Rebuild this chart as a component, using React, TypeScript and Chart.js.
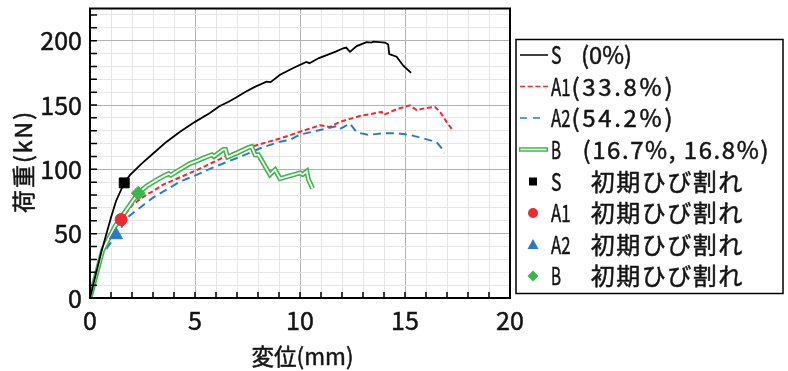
import React, { useEffect, useRef } from 'react';
import { Chart, registerables } from 'chart.js';

Chart.register(...registerables);

// ---------------- data ----------------
const xMin = 0;
const xMax = 20;
const yMin = 0;
const yMax = 225;
const xMajorTicks = [0, 5, 10, 15, 20];
const yMajorTicks = [0, 50, 100, 150, 200];

const xTitle = '変位(mm)';
const yTitle = '荷重(kN)';

const seriesNames = ['S', 'A1', 'A2', 'B'];
const seriesRatios = ['(0%)', '(33.8%)', '(54.2%)', '(16.7%, 16.8%)'];
const crackText = '初期ひび割れ';

// S (0%)
const sX = [0, 0.56, 1.0, 1.24, 1.63, 1.9, 2.46, 3.02, 3.65, 4.29, 5.0, 5.71, 6.16, 6.6, 6.98, 7.43, 7.9, 8.41, 8.6, 9.05, 9.68, 10.3, 10.45, 10.9, 11.27, 11.7, 12.06, 12.2, 12.38, 12.7, 13.17, 13.4, 13.5, 14.05, 14.2, 14.25, 14.6, 14.92, 15.29];
const sY = [0, 37, 62.5, 75.4, 89.5, 95.5, 104.4, 112.5, 121.5, 129.2, 136.9, 143.8, 149, 152.5, 156, 160.5, 164.5, 168.2, 167.8, 173.5, 178.8, 183.5, 182.5, 186.5, 188.7, 191.5, 194.1, 194.6, 191.3, 195.8, 198.8, 198.5, 199.2, 198.5, 197, 189.5, 187.5, 180.5, 174.9];

// A1 (33.8%)
const a1X = [0, 0.6, 1.0, 1.48, 2.03, 2.7, 3.0, 3.49, 4.1, 5.0, 5.87, 6.5, 7.46, 8.1, 9.05, 9.52, 10.0, 10.95, 11.43, 11.9, 12.86, 13.89, 13.97, 14.6, 15.24, 15.56, 15.95, 16.43, 16.67, 16.98, 17.3];
const a1Y = [0, 36, 49, 61, 72.5, 80.5, 83, 88.2, 92.5, 98.8, 105.5, 110.5, 116.4, 119.5, 124, 126.5, 129.2, 134.2, 133, 136.9, 141.5, 144.6, 142.2, 146.7, 149.7, 145.9, 147.5, 148.5, 144.6, 136.9, 129.7];

// A2 (54.2%)
const a2X = [0, 0.6, 1.24, 1.87, 2.59, 3.0, 3.62, 4.29, 5.05, 5.87, 6.67, 7.46, 8.1, 9.05, 9.52, 10.0, 10.95, 11.75, 11.9, 12.38, 12.7, 13.25, 13.97, 14.6, 15.24, 15.87, 16.51, 16.75, 16.86];
const a2Y = [0, 34, 49, 63.8, 72.8, 78, 84, 90.5, 95.5, 101.5, 106.7, 111.8, 116.4, 121.5, 122.8, 127, 130.5, 133.6, 131.3, 135.6, 128.7, 126.8, 128, 128, 126.7, 124.1, 121, 116.4, 112.5];

// B (16.7%, 16.8%)
const bX = [0, 0.6, 1.2, 1.8, 2.3, 2.7, 3.2, 3.6, 3.75, 3.85, 4.3, 4.76, 5.1, 5.4, 5.8, 5.9, 6.35, 6.45, 6.55, 6.98, 7.54, 7.7, 7.86, 8.02, 8.57, 8.81, 9.05, 10.0, 10.13, 10.32, 10.4, 10.6];
const bY = [0, 37, 56, 70, 81.5, 87, 92, 95.5, 96.5, 95.5, 100, 104.5, 106.5, 108.7, 111.3, 110, 115.5, 115.5, 109.5, 112.6, 116.9, 117.7, 111.3, 111.3, 95.9, 99.7, 92.8, 97.2, 96, 98.5, 92.1, 85.1];

// 初期ひび割れ points (S, A1, A2, B)
const crackX = [1.63, 1.48, 1.24, 2.3];
const crackY = [89.5, 61, 49, 81.5];

// ---------------- styles ----------------
const BLACK = '#000000';
const RED = '#ec2a31';
const BLUE = '#2b7bc4';
const GREEN = '#3cb54a';
const MAJOR_GRID = '#b2b2b2';
const MINOR_GRID = '#e6e6e6';
const TEXT = '#141414';
const FONT = '"Noto Sans CJK JP", "Noto Sans CJK SC", sans-serif';

const pts = (xs: number[], ys: number[]) => xs.map((x, i) => ({ x, y: ys[i] }));

function fitText(ctx: CanvasRenderingContext2D, text: string, x: number, y: number, target: number) {
  ctx.textAlign = 'left';
  const w = ctx.measureText(text).width;
  if (w >= target) {
    ctx.fillText(text, x, y, target);
    ctx.strokeText(text, x, y, target);
    return;
  }
  const chars = Array.from(text);
  const extra = chars.length > 1 ? (target - w) / (chars.length - 1) : 0;
  let cx = x;
  for (const ch of chars) {
    ctx.fillText(ch, cx, y);
    ctx.strokeText(ch, cx, y);
    cx += ctx.measureText(ch).width + extra;
  }
}

const decorPlugin = {
  id: 'decor',
  afterDatasetsDraw(chart: any) {
    const { ctx, chartArea: a, scales } = chart;
    const xs = scales.x;
    const ys = scales.y;
    ctx.save();
    ctx.strokeStyle = '#000';
    ctx.lineWidth = 1.5;
    ctx.beginPath();
    xs.ticks.forEach((t: any) => {
      if (t.value <= xMin || t.value >= xMax) return;
      const px = xs.getPixelForValue(t.value);
      ctx.moveTo(px, a.bottom);
      ctx.lineTo(px, a.bottom - 6);
    });
    ys.ticks.forEach((t: any) => {
      if (t.value <= yMin || t.value >= yMax) return;
      const py = ys.getPixelForValue(t.value);
      ctx.moveTo(a.left, py);
      ctx.lineTo(a.left + 7, py);
    });
    ctx.stroke();
    ctx.lineWidth = 2;
    ctx.strokeRect(a.left, a.top, a.right - a.left, a.bottom - a.top);
    ctx.restore();
  },
  afterDraw(chart: any) {
    const { ctx, chartArea: a } = chart;
    ctx.save();
    ctx.fillStyle = TEXT;
    ctx.strokeStyle = TEXT;
    ctx.lineWidth = 0.5;
    ctx.textBaseline = 'middle';

    // axis titles
    ctx.font = `23px ${FONT}`;
    fitText(ctx, xTitle, (a.left + a.right) / 2 - 48.5, 356, 102);
    ctx.save();
    ctx.translate(23, 213);
    ctx.rotate(-Math.PI / 2);
    fitText(ctx, yTitle, 0, 0, 101);
    ctx.restore();

    // legend
    const bl = a.right + 6;
    const bt = 39.5;
    ctx.strokeStyle = '#000';
    ctx.lineWidth = 1.5;
    ctx.strokeRect(bl, bt, 267, 254);

    const rowY = [55, 86.5, 118, 149.5, 181.5, 213, 244.5, 276];
    const sx0 = bl + 4;
    const sx1 = bl + 32;

    // line samples
    ctx.lineCap = 'butt';
    ctx.setLineDash([]);
    ctx.strokeStyle = BLACK;
    ctx.lineWidth = 1.5;
    ctx.beginPath(); ctx.moveTo(sx0, rowY[0]); ctx.lineTo(sx1, rowY[0]); ctx.stroke();
    ctx.setLineDash([5, 2.7]);
    ctx.strokeStyle = RED;
    ctx.lineWidth = 1.3;
    ctx.beginPath(); ctx.moveTo(sx0, rowY[1]); ctx.lineTo(sx1, rowY[1]); ctx.stroke();
    ctx.setLineDash([7, 6]);
    ctx.strokeStyle = BLUE;
    ctx.beginPath(); ctx.moveTo(sx0, rowY[2]); ctx.lineTo(sx0 + 21, rowY[2]); ctx.stroke();
    ctx.setLineDash([]);
    ctx.strokeStyle = GREEN;
    ctx.lineWidth = 4.5;
    ctx.beginPath(); ctx.moveTo(sx0 - 1, rowY[3]); ctx.lineTo(sx1, rowY[3]); ctx.stroke();
    ctx.strokeStyle = '#ffffff';
    ctx.lineWidth = 1.6;
    ctx.beginPath(); ctx.moveTo(sx0 + 0.5, rowY[3]); ctx.lineTo(sx1 - 1.5, rowY[3]); ctx.stroke();

    // marker samples
    const mx = bl + 17;
    ctx.fillStyle = BLACK;
    ctx.fillRect(mx - 4, rowY[4] - 4, 8, 8);
    ctx.fillStyle = RED;
    ctx.beginPath(); ctx.arc(mx, rowY[5], 5, 0, Math.PI * 2); ctx.fill();
    ctx.fillStyle = BLUE;
    ctx.beginPath();
    ctx.moveTo(mx, rowY[6] - 5.5); ctx.lineTo(mx + 5.5, rowY[6] + 4.5); ctx.lineTo(mx - 5.5, rowY[6] + 4.5);
    ctx.closePath(); ctx.fill();
    ctx.fillStyle = GREEN;
    ctx.beginPath();
    ctx.moveTo(mx, rowY[7] - 5.5); ctx.lineTo(mx + 5.5, rowY[7]); ctx.lineTo(mx, rowY[7] + 5.5); ctx.lineTo(mx - 5.5, rowY[7]);
    ctx.closePath(); ctx.fill();

    // legend text
    ctx.fillStyle = TEXT;
    ctx.strokeStyle = TEXT;
    ctx.lineWidth = 0.5;
    ctx.font = `24px ${FONT}`;
    const tx = bl + 35;
    const nameW = [10.5, 19.5, 19.5, 10];
    const ratioX = [bl + 65, bl + 55.5, bl + 55.5, bl + 66.5];
    const ratioW = [51, 101, 101, 186];
    for (let i = 0; i < 4; i++) {
      fitText(ctx, seriesNames[i], tx, rowY[i], nameW[i]);
      fitText(ctx, seriesRatios[i], ratioX[i], rowY[i], ratioW[i]);
    }
    for (let i = 0; i < 4; i++) {
      fitText(ctx, seriesNames[i], tx, rowY[4 + i], nameW[i]);
      fitText(ctx, crackText, bl + 74.7, rowY[4 + i], 151.5);
    }
    ctx.restore();
  },
};

export default function App() {
  const ref = useRef<HTMLCanvasElement>(null);

  useEffect(() => {
    const canvas = ref.current;
    if (!canvas) return;
    const lineDs = (label: string, xs: number[], ys: number[], color: string, width: number, dash: number[], order: number) => ({
      label,
      data: pts(xs, ys),
      showLine: true,
      borderColor: color,
      backgroundColor: color,
      borderWidth: width,
      borderDash: dash,
      pointRadius: 0,
      pointHoverRadius: 0,
      tension: 0,
      fill: false,
      order,
    });
    const markerDs = (i: number, style: string, radius: number, color: string) => ({
      label: `${seriesNames[i]} ${crackText}`,
      data: [{ x: crackX[i], y: crackY[i] }],
      showLine: false,
      pointStyle: style,
      pointRadius: radius,
      pointBackgroundColor: color,
      pointBorderColor: color,
      pointBorderWidth: 1,
      order: 0,
    });

    const chart = new Chart(canvas, {
      type: 'scatter',
      data: {
        datasets: [
          lineDs(`${seriesNames[0]} ${seriesRatios[0]}`, sX, sY, BLACK, 1.8, [], 1),
          lineDs(`${seriesNames[3]} ${seriesRatios[3]}`, bX, bY, GREEN, 5, [], 3),
          lineDs(`${seriesNames[3]} inner`, bX, bY, '#ffffff', 1.8, [], 2),
          lineDs(`${seriesNames[1]}${seriesRatios[1]}`, a1X, a1Y, RED, 2, [5, 2.7], 4),
          lineDs(`${seriesNames[2]}${seriesRatios[2]}`, a2X, a2Y, BLUE, 2, [8, 5], 5),
          markerDs(0, 'rect', 7, BLACK),
          markerDs(1, 'circle', 6, RED),
          markerDs(2, 'triangle', 7.5, BLUE),
          markerDs(3, 'rectRot', 7, GREEN),
        ] as any,
      },
      options: {
        animation: false,
        responsive: false,
        devicePixelRatio: 1,
        events: [],
        layout: { padding: { left: 0, right: 278, top: 6, bottom: 0 } },
        plugins: {
          legend: { display: false },
          tooltip: { enabled: false },
        },
        scales: {
          x: {
            type: 'linear',
            position: 'bottom',
            min: xMin,
            max: xMax,
            afterFit: (s: any) => {
              s.height = 73;
              s.paddingLeft = 0;
              s.paddingRight = 0;
            },
            border: { display: false },
            grid: {
              color: (c: any) => (c.tick && xMajorTicks.includes(Number(c.tick.value)) ? MAJOR_GRID : MINOR_GRID),
              lineWidth: 1,
              drawTicks: false,
            },
            ticks: {
              stepSize: 1,
              maxTicksLimit: 100,
              autoSkip: false,
              includeBounds: false,
              maxRotation: 0,
              minRotation: 0,
              padding: 7,
              color: TEXT,
              textStrokeColor: TEXT,
              textStrokeWidth: 0.5,
              font: { family: FONT, size: 25 },
              callback: (v: any) => (xMajorTicks.includes(Number(v)) ? String(v) : ''),
            },
          },
          y: {
            type: 'linear',
            position: 'left',
            min: yMin,
            max: yMax,
            afterFit: (s: any) => {
              s.width = 90;
              s.paddingTop = 0;
              s.paddingBottom = 0;
            },
            border: { display: false },
            grid: {
              color: (c: any) => (c.tick && yMajorTicks.includes(Number(c.tick.value)) ? MAJOR_GRID : MINOR_GRID),
              lineWidth: 1,
              drawTicks: false,
            },
            ticks: {
              stepSize: 10,
              maxTicksLimit: 100,
              autoSkip: false,
              includeBounds: false,
              padding: 8,
              color: TEXT,
              textStrokeColor: TEXT,
              textStrokeWidth: 0.5,
              font: { family: FONT, size: 25 },
              callback: (v: any) => (yMajorTicks.includes(Number(v)) ? String(v) : ''),
            },
          },
        },
      } as any,
      plugins: [decorPlugin],
    });
    return () => chart.destroy();
  }, []);

  return (
    <div style={{ position: 'fixed', left: 0, top: 0, width: 788, height: 371, background: '#ffffff' }}>
      <canvas ref={ref} width={788} height={371} style={{ display: 'block', width: 788, height: 371 }} />
    </div>
  );
}
